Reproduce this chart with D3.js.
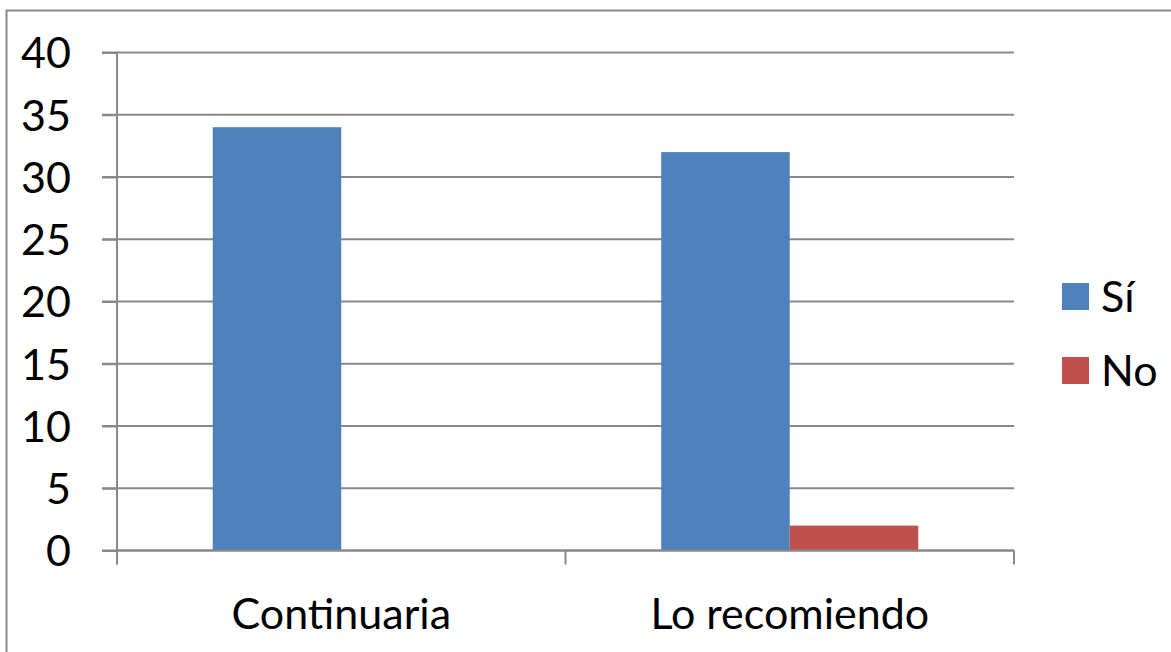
<!DOCTYPE html>
<html><head><meta charset="utf-8">
<script src="https://cdn.jsdelivr.net/npm/d3@7/dist/d3.min.js"></script>
<style>body{margin:0;background:#fff;} svg{display:block;} text{font-family:Lato, "Open Sans", sans-serif;fill:#000;}</style>
</head><body>
<svg id="c" width="1171" height="652"></svg>
<script>
const categories = ["Continuaria", "Lo recomiendo"];
const seriesNames = ["Sí", "No"];
const siValues = [34, 32];
const noValues = [0, 2];
const yTicks = [0, 5, 10, 15, 20, 25, 30, 35, 40];
const colors = ["#4F81BD", "#C0504D"];

const svg = d3.select("#c");
const L = 117, R = 1014, T = 52.5, B = 550.5;
const grid = "#888888";
const FS = 43;

svg.append("rect").attr("x", 6.5).attr("y", 10.5).attr("width", 1180).attr("height", 700)
  .attr("fill", "none").attr("stroke", "#888").attr("stroke-width", 2);

const y = d3.scaleLinear().domain([0, 40]).range([B, T]);
const x0 = d3.scaleBand().domain(categories).range([L, R]).padding(0);
const x1 = d3.scaleBand().domain(seriesNames).range([0, x0.bandwidth()]).paddingInner(0).paddingOuter(0.745);

// gridlines
svg.append("g").selectAll("line").data(yTicks).join("line")
  .attr("x1", L - 15).attr("x2", R).attr("y1", d => y(d)).attr("y2", d => y(d))
  .attr("stroke", grid).attr("stroke-width", 2);

const data = categories.map((c, i) => ({cat: c, vals: [siValues[i], noValues[i]]}));
const g = svg.append("g");
data.forEach(d => {
  seriesNames.forEach((s, j) => {
    const v = d.vals[j];
    if (v > 0) {
      g.append("rect").attr("x", x0(d.cat) + x1(s)).attr("width", x1.bandwidth())
        .attr("y", y(v)).attr("height", y(0) - y(v)).attr("fill", colors[j]);
    }
  });
});

// y axis
const yAxis = svg.append("g").attr("transform", `translate(${L},0)`)
  .call(d3.axisLeft(y).tickValues(yTicks).tickSize(15).tickPadding(30));
yAxis.select(".domain").attr("stroke", grid).attr("stroke-width", 2).attr("d", `M0,${T}V${B + 14}`);
yAxis.selectAll(".tick line").attr("stroke", grid).attr("stroke-width", 2);
yAxis.selectAll("text").attr("font-size", FS).attr("fill", "#000").attr("dy", "0.36em").attr("x", -46);

// x axis
const xAxis = svg.append("g").attr("transform", `translate(0,${B})`);
xAxis.append("line").attr("x1", L).attr("x2", R).attr("stroke", grid).attr("stroke-width", 2);
const bounds = [L, ...categories.map(c => x0(c) + x0.bandwidth())];
xAxis.selectAll(".tk").data(bounds).join("line").attr("class", "tk")
  .attr("x1", d => d).attr("x2", d => d).attr("y1", 0).attr("y2", 14)
  .attr("stroke", grid).attr("stroke-width", 2);
xAxis.selectAll(".lbl").data(categories).join("text").attr("class", "lbl")
  .attr("x", d => x0(d) + x0.bandwidth() / 2).attr("y", 78)
  .attr("text-anchor", "middle").attr("font-size", FS).text(d => d);

// legend
const lg = svg.append("g");
seriesNames.forEach((s, j) => {
  const cy = 296.5 + j * 74;
  lg.append("rect").attr("x", 1062).attr("y", cy - 13.5).attr("width", 27).attr("height", 27).attr("fill", colors[j]);
  lg.append("text").attr("x", 1101).attr("y", cy).attr("dy", "0.36em").attr("font-size", FS).text(s);
});
</script>
</body></html>
